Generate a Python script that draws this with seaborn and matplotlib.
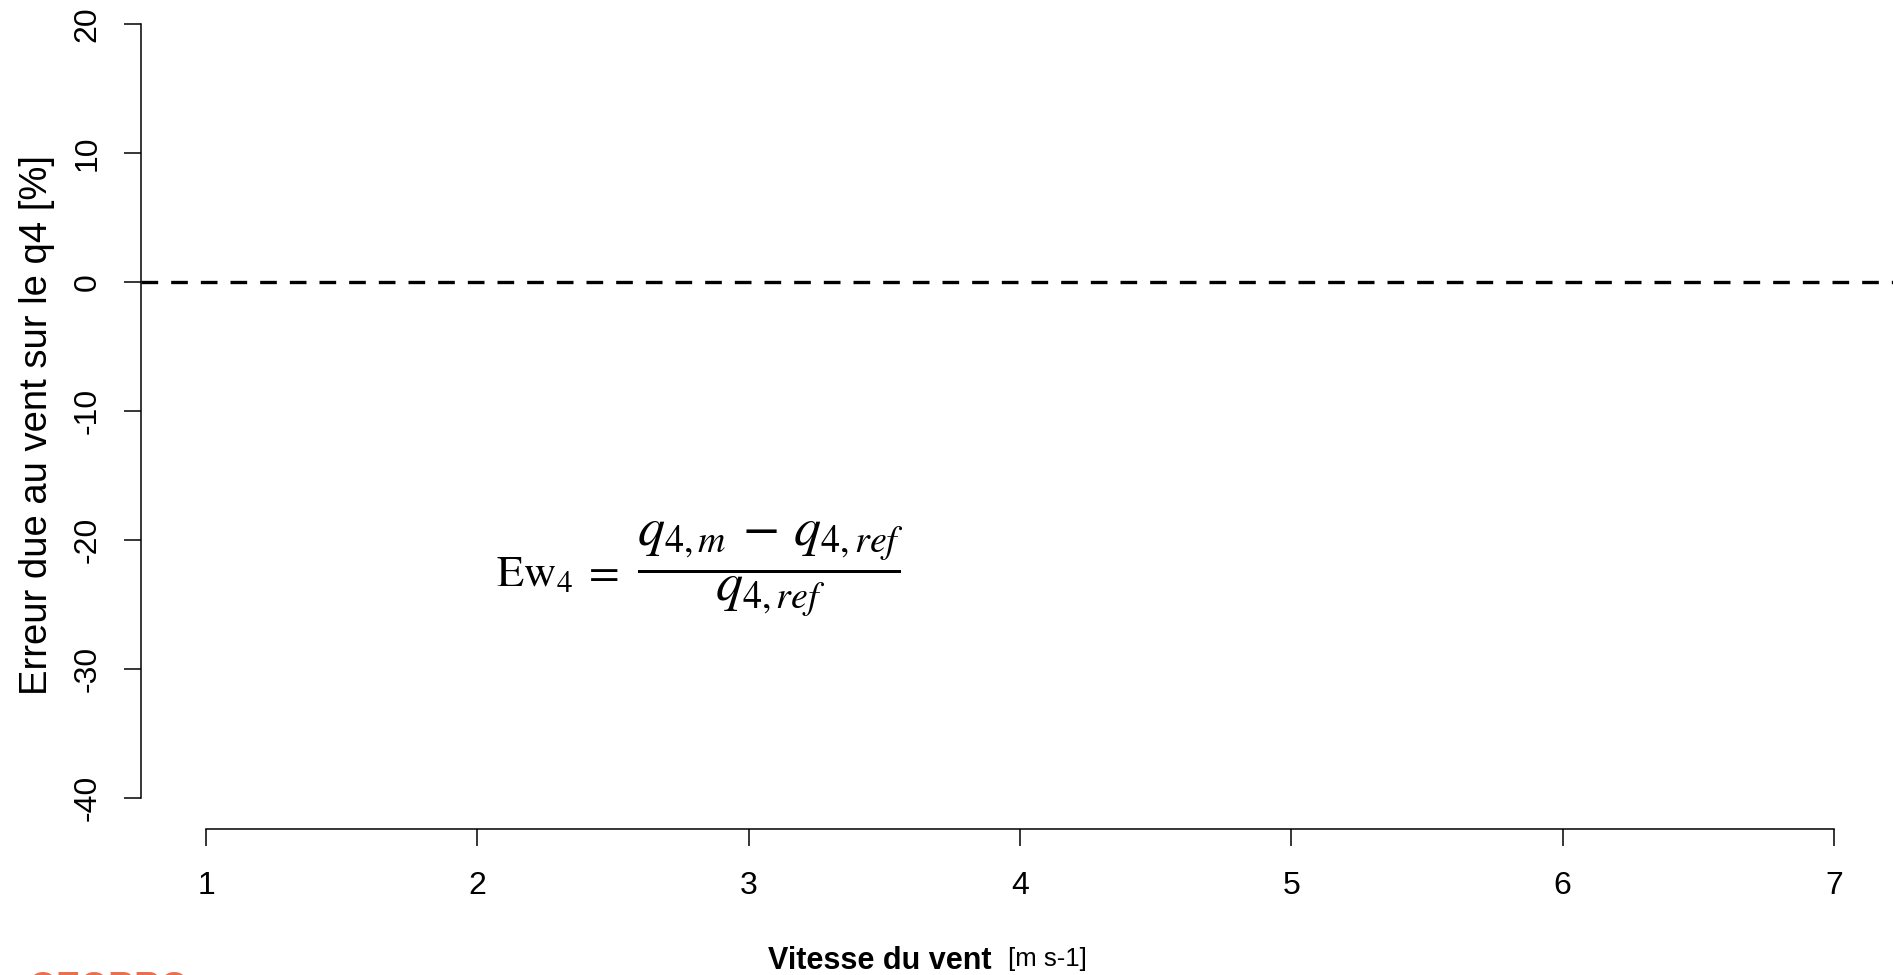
import matplotlib
matplotlib.use("Agg")
import matplotlib.pyplot as plt
import seaborn as sns
import numpy as np

# ---- data ----
x_ticks = [1, 2, 3, 4, 5, 6, 7]
y_ticks = [-40, -30, -20, -10, 0, 10, 20]
x_tick_labels = ["1", "2", "3", "4", "5", "6", "7"]
y_tick_labels = ["-40", "-30", "-20", "-10", "0", "10", "20"]
ref_level = [0]
x_label_main = "Vitesse du vent"
x_label_unit = "[m s-1]"
y_label = "Erreur due au vent sur le q4 [%]"
formula_lhs = r"$\mathrm{Ew}_4\;=$"
formula_rhs = r"$\dfrac{q_{4,m}\,-\,q_{4,ref}}{q_{4,ref}}$"

sns.set_style("ticks")
plt.rcParams["font.family"] = ["Liberation Sans", "DejaVu Sans"]
plt.rcParams["mathtext.fontset"] = "stix"

W, H = 1893, 975
fig = plt.figure(figsize=(W / 100, H / 100), dpi=100)
ax = fig.add_axes([141 / W, (H - 829) / H, 1 - 141 / W, 829 / H])

ax.set_xlim(0.76, 7.218)
ax.set_ylim(-42.4, 21.86)

for y0 in ref_level:
    ax.axhline(y0, color="black", lw=2.4, dashes=(5.0, 3.9), zorder=2)

ax.set_xticks(x_ticks)
ax.set_xticklabels(x_tick_labels)
ax.set_yticks(y_ticks)
ax.set_yticklabels(y_tick_labels, rotation=90, va="center")

sns.despine(ax=ax, top=True, right=True)
ax.spines["left"].set_bounds(min(y_ticks), max(y_ticks))
ax.spines["bottom"].set_bounds(min(x_ticks), max(x_ticks))
for s in ("left", "bottom"):
    ax.spines[s].set_linewidth(1.1)
    ax.spines[s].set_color("black")

ax.tick_params(axis="x", length=12.5, width=1.1, pad=18, labelsize=23, colors="black")
ax.tick_params(axis="y", length=12.5, width=1.1, pad=15, labelsize=23, colors="black")
ax.set_facecolor("white")

fig.text(37 / W, 1 - 425 / H, y_label, rotation=90, ha="center", va="center",
         fontsize=27.5, color="black")

fig.text(768 / W, 1 - 969 / H, x_label_main, ha="left", va="baseline",
         fontsize=22, fontweight="bold", color="black")
fig.text(1008 / W, 1 - 966 / H, x_label_unit, ha="left", va="baseline",
         fontsize=18.5, color="black")

fig.text(496 / W, 1 - 586 / H, formula_lhs, ha="left", va="baseline",
         fontsize=32, color="black")
fig.text(637 / W, 1 - 569 / H, formula_rhs, ha="left", va="center",
         fontsize=39, color="black")

# partially visible logo at the bottom-left edge
fig.text(28 / W, 1 - 971.5 / H, "OEORRO", ha="left", va="top", fontsize=26,
         fontweight="bold", color="#E8704F")

fig.savefig("out.png", dpi=100, facecolor="white")
